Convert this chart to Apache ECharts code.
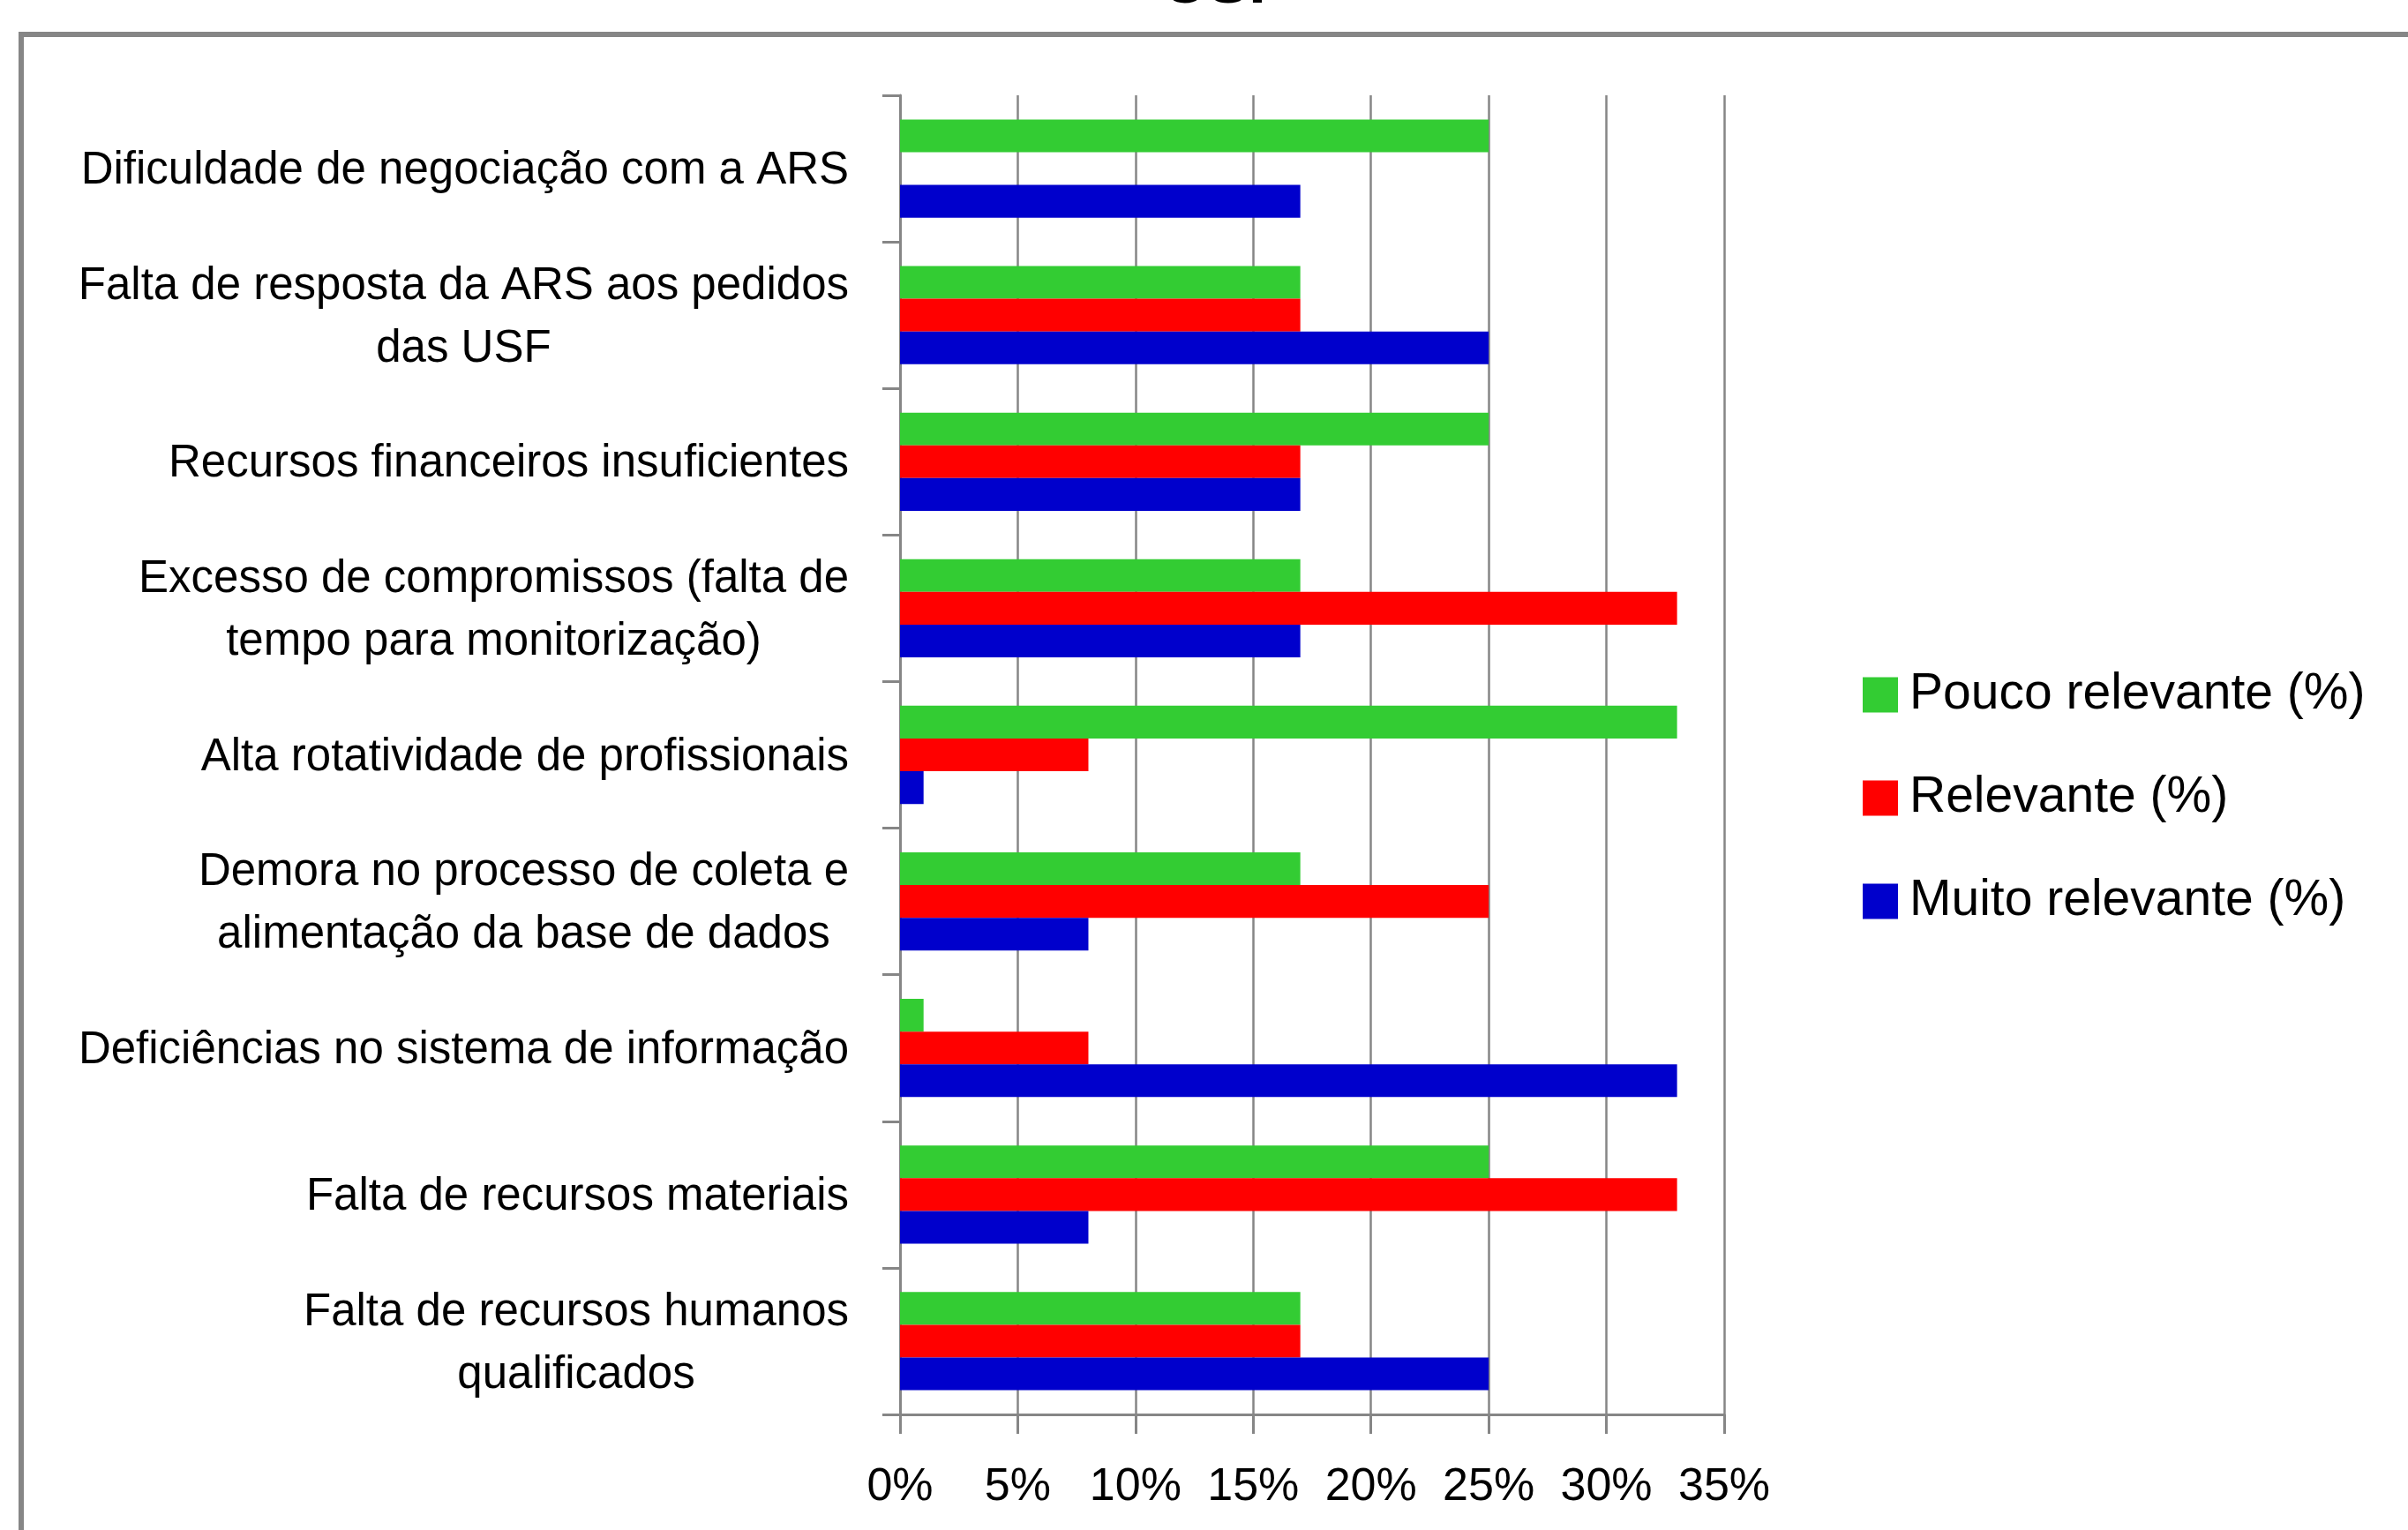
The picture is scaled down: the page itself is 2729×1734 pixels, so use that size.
<!DOCTYPE html>
<html>
<head>
<meta charset="utf-8">
<script src="https://cdn.jsdelivr.net/npm/echarts@6/dist/echarts.min.js"></script>
<style>
html,body{margin:0;padding:0;background:#fff;}
#chart{width:2729px;height:1734px;}
</style>
</head>
<body>
<div id="chart"></div>
<script>
// Categories listed bottom -> top (ECharts category y axis starts at bottom)
const categories = [
  "Falta de recursos humanos\nqualificados",
  "Falta de recursos materiais",
  "Deficiências no sistema de informação",
  "Demora no processo de coleta e\nalimentação da base de dados",
  "Alta rotatividade de profissionais",
  "Excesso de compromissos (falta de\ntempo para monitorização)",
  "Recursos financeiros insuficientes",
  "Falta de resposta da ARS aos pedidos\ndas USF",
  "Dificuldade de negociação com a ARS"
];
const seriesNames = ["Pouco relevante (%)", "Relevante (%)", "Muito relevante (%)"];
const poucoRelevante = [17, 25, 1, 17, 33, 17, 25, 17, 25];
const relevante      = [17, 33, 8, 25, 8, 33, 17, 17, 0];
const muitoRelevante = [25, 8, 33, 8, 1, 17, 17, 25, 17];
const xTicks = [0, 5, 10, 15, 20, 25, 30, 35];
const titleFragment = "USF";

const colors = ["#33CC33", "#FF0000", "#0000CC"];
const grey = "#868686";
const FONT = '"Liberation Sans", Arial, sans-serif';

const chart = echarts.init(document.getElementById('chart'), null, {renderer: 'canvas'});
const values = [poucoRelevante, relevante, muitoRelevante];

const option = {
  backgroundColor: '#ffffff',
  animation: false,
  graphic: [
    {
      type: 'rect', z: -10, silent: true,
      shape: {x: 24, y: 39, width: 3200, height: 2200},
      style: {fill: null, stroke: grey, lineWidth: 6}
    },
    {
      type: 'text', silent: true,
      x: 1318, y: 19,
      style: {text: titleFragment, font: 'bold 70px "Liberation Sans", sans-serif', fill: '#000', verticalAlign: 'bottom'}
    }
  ],
  legend: {
    orient: 'vertical',
    left: 2111,
    top: 759,
    padding: 0,
    itemWidth: 40,
    itemHeight: 40,
    itemGap: 60,
    icon: 'rect',
    data: seriesNames,
    textStyle: {fontFamily: FONT, fontSize: 57, color: '#000', padding: [0, 0, 0, 8]}
  },
  grid: {left: 1020, right: 775, top: 108, bottom: 131, containLabel: false, outerBoundsMode: 'none'},
  xAxis: {
    type: 'value',
    min: xTicks[0],
    max: xTicks[xTicks.length - 1],
    interval: 5,
    axisLine: {show: true, lineStyle: {color: grey, width: 3}},
    axisTick: {show: true, length: 22, lineStyle: {color: grey, width: 3}},
    splitLine: {show: true, lineStyle: {color: grey, width: 2.5}},
    axisLabel: {
      margin: 57,
      formatter: v => v + '%',
      fontFamily: FONT, fontSize: 52, color: '#000'
    }
  },
  yAxis: {
    type: 'category',
    data: categories,
    boundaryGap: true,
    axisLine: {show: true, lineStyle: {color: grey, width: 3}},
    axisTick: {show: true, length: 20, alignWithLabel: false, lineStyle: {color: grey, width: 3}},
    splitLine: {show: false},
    axisLabel: {
      margin: 58,
      interval: 0,
      padding: [6, 0, 0, 0],
      formatter: v => v.split('\n').map(l => '{c|' + l + '}').join('\n'),
      rich: {c: {align: 'center', fontFamily: FONT, fontSize: 51, lineHeight: 71, color: '#000'}}
    }
  },
  series: seriesNames.map((name, i) => ({
    name: name,
    type: 'bar',
    data: values[i],
    barGap: '0%',
    barCategoryGap: '33%',
    itemStyle: {color: colors[i]}
  }))
};
chart.setOption(option);
</script>
</body>
</html>
